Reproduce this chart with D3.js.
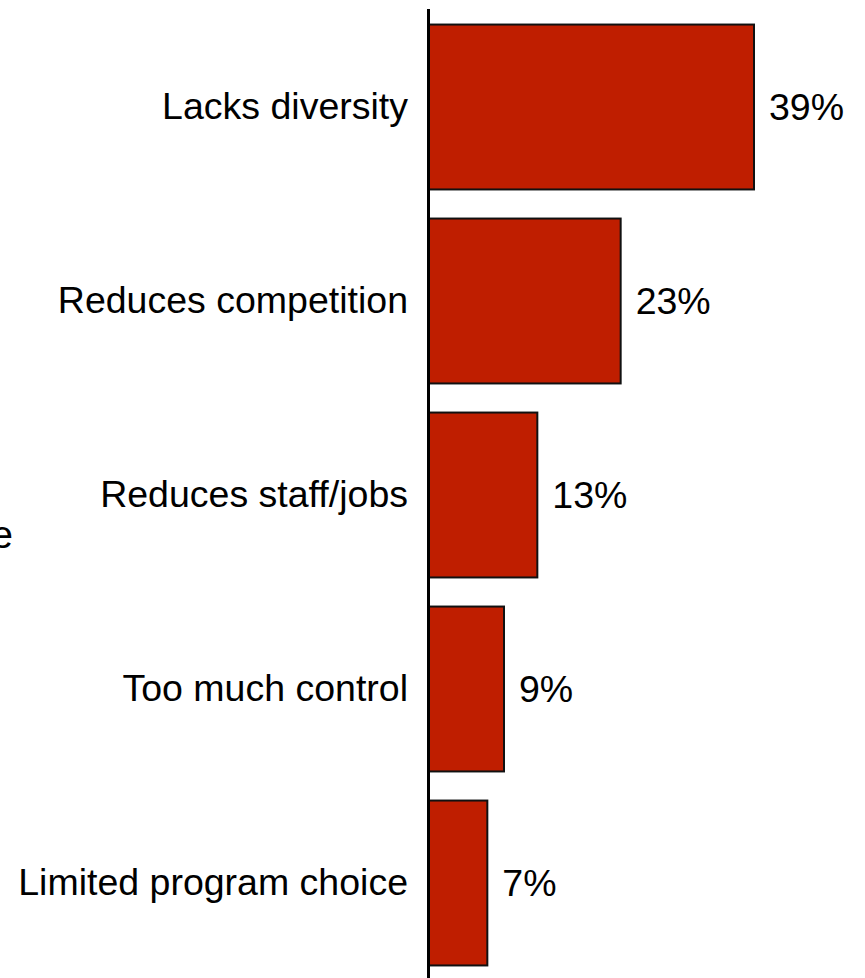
<!DOCTYPE html>
<html>
<head>
<meta charset="utf-8">
<script src="https://cdn.jsdelivr.net/npm/d3@7/dist/d3.min.js"></script>
<style>
  html, body { margin: 0; padding: 0; background: #fff; }
  svg { display: block; }
  text { font-family: "Liberation Sans", Arial, sans-serif; fill: #000; }
</style>
</head>
<body>
<svg id="chart" width="865" height="978"></svg>
<script>
// Reasons cited, share of respondents (%)
const categories = ["Lacks diversity", "Reduces competition", "Reduces staff/jobs", "Too much control", "Limited program choice"];
const values = [39, 23, 13, 9, 7];
const valueLabels = ["39%", "23%", "13%", "9%", "7%"];

const svg = d3.select("#chart");
const W = 865, H = 978;
const FS = "37.5px";

const x = d3.scaleLinear().domain([0, 39]).range([429, 754]);
const y = d3.scaleBand()
  .domain(categories)
  .range([10, 980])
  .paddingInner(0.15)
  .paddingOuter(0.075);

// side title fragment at the far left
svg.append("text")
  .attr("x", 13)
  .attr("y", 548)
  .attr("text-anchor", "end")
  .style("font-size", "39px")
  .text("e");

// bars
svg.append("g").selectAll("rect")
  .data(categories)
  .join("rect")
  .attr("x", x(0))
  .attr("y", d => y(d))
  .attr("width", (d, i) => x(values[i]) - x(0))
  .attr("height", y.bandwidth())
  .attr("fill", "#bf1e00")
  .attr("stroke", "#111")
  .attr("stroke-width", 2);

// value labels
svg.append("g").selectAll("text")
  .data(categories)
  .join("text")
  .attr("x", (d, i) => x(values[i]) + 15)
  .attr("y", d => y(d) + y.bandwidth() / 2)
  .attr("dy", "0.35em")
  .style("font-size", FS)
  .text((d, i) => valueLabels[i]);

// category axis
const axis = d3.axisLeft(y).tickSize(0).tickPadding(20);
const gAxis = svg.append("g")
  .attr("transform", `translate(${x(0) - 1},0)`)
  .call(axis);
gAxis.select(".domain").remove();
gAxis.selectAll("text")
  .style("font-size", FS)
  .style("font-family", "'Liberation Sans', Arial, sans-serif")
  .attr("fill", "#000");

svg.append("line")
  .attr("x1", 428.5).attr("x2", 428.5)
  .attr("y1", 9).attr("y2", H)
  .attr("stroke", "#000")
  .attr("stroke-width", 3);
</script>
</body>
</html>
